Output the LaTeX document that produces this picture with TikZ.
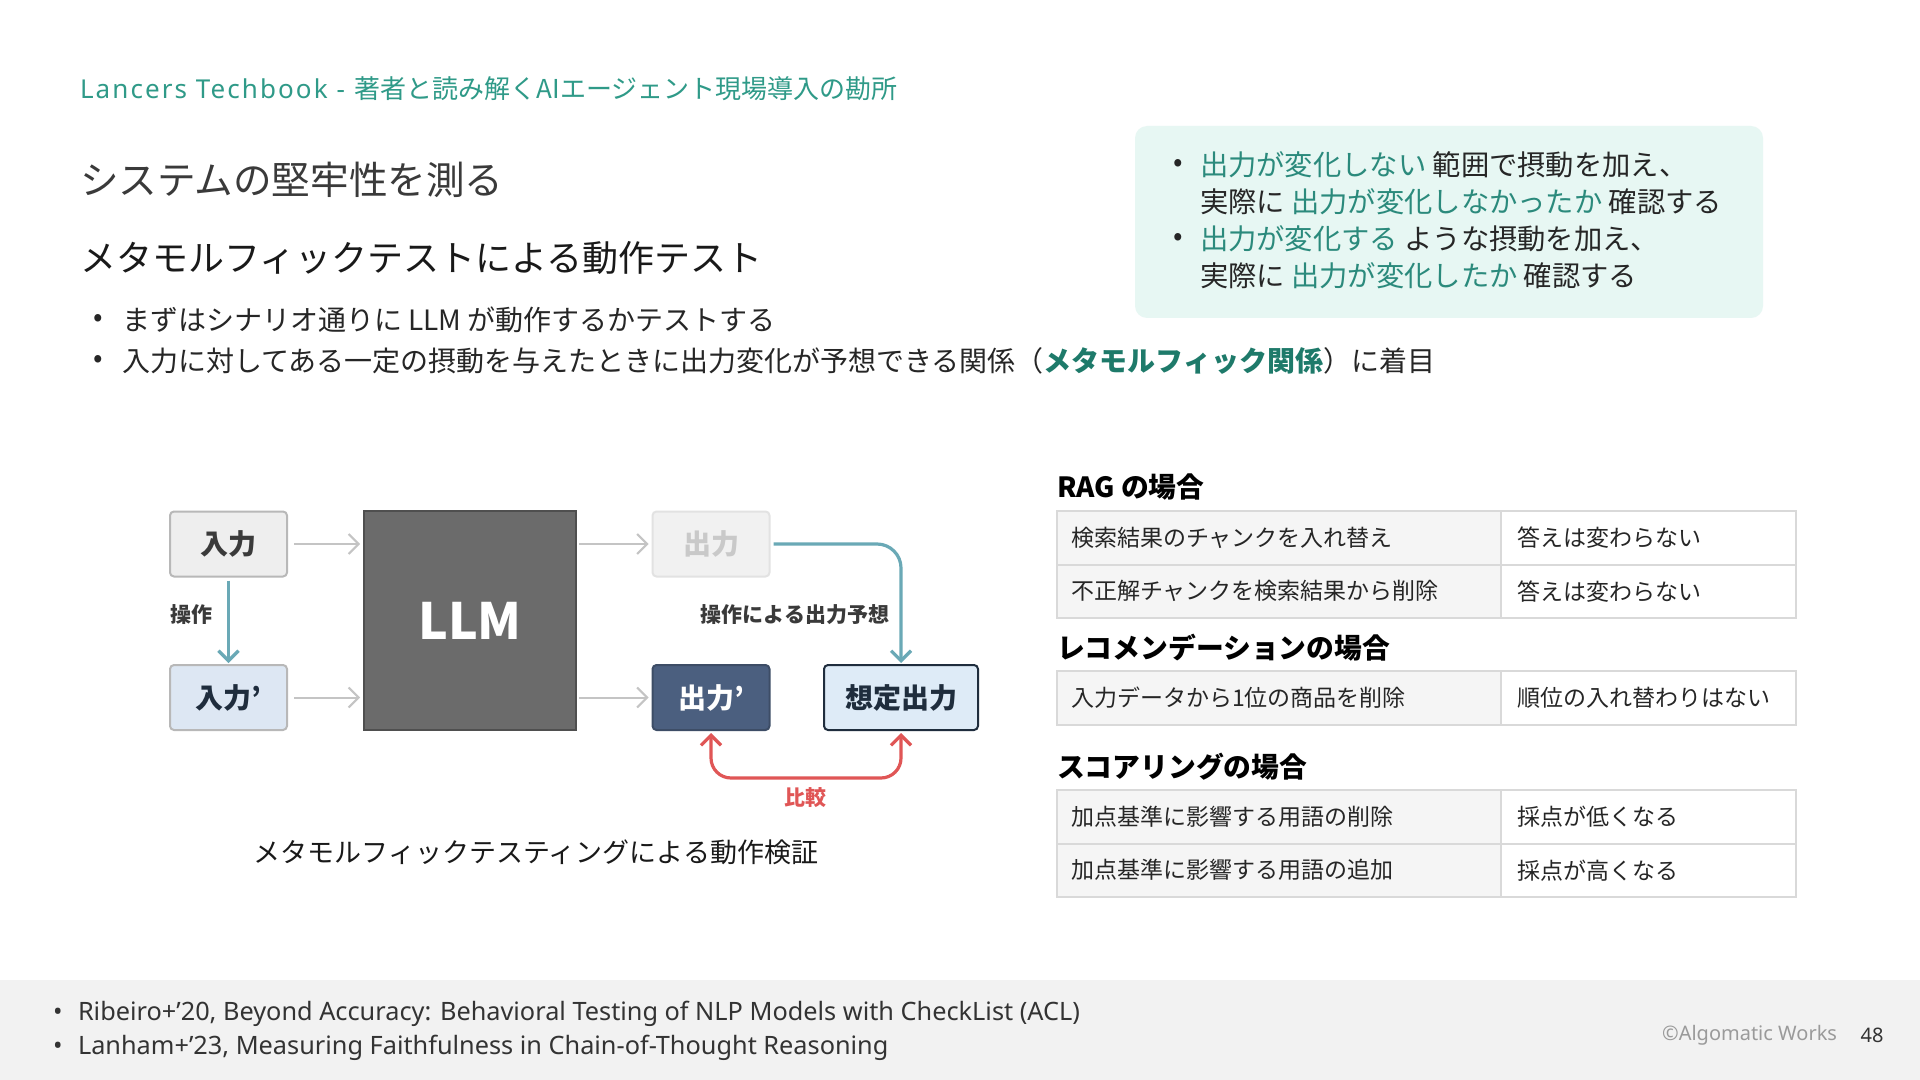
\documentclass[tikz,border=0pt]{standalone}
\usepackage{fontspec}
\setmainfont{Noto Sans CJK JP}
\newfontfamily\latinfont{Noto Sans}
\newfontfamily\latinspaced[LetterSpace=8]{Noto Sans}
\usetikzlibrary{arrows.meta}
\newcommand{\fsz}[1]{\fontsize{#1pt}{#1pt}\selectfont}
\definecolor{tealhead}{HTML}{2F9A88}
\definecolor{titlegray}{HTML}{3A3A3A}
\definecolor{boxteal}{HTML}{2B8A7C}
\definecolor{boldteal}{HTML}{1E7A6A}
\definecolor{boxfill}{HTML}{E7F7F3}
\definecolor{arrgray}{HTML}{C4C4C4}
\definecolor{arrteal}{HTML}{6AA9B6}
\definecolor{arrred}{HTML}{E05656}
\definecolor{dtext}{HTML}{3A3A3A}
\definecolor{inonefill}{HTML}{EEEEEE}
\definecolor{inoneline}{HTML}{B8B8B8}
\definecolor{intwofill}{HTML}{DDE7F3}
\definecolor{llmfill}{HTML}{6B6B6B}
\definecolor{llmline}{HTML}{4F4F4F}
\definecolor{outonefill}{HTML}{F1F1F1}
\definecolor{outoneline}{HTML}{E2E2E2}
\definecolor{outonetext}{HTML}{C9C9C9}
\definecolor{outtwofill}{HTML}{4B5F7F}
\definecolor{outtwoline}{HTML}{3D4D66}
\definecolor{expfill}{HTML}{DEEBF7}
\definecolor{expline}{HTML}{1F2D3D}
\definecolor{tblline}{HTML}{D9D9D9}
\definecolor{tblfill}{HTML}{F5F5F5}
\definecolor{footbg}{HTML}{F2F2F2}
\definecolor{foottext}{HTML}{333333}
\definecolor{copygray}{HTML}{9A9A9A}
\begin{document}
\begin{tikzpicture}[x=0.5pt,y=-0.5pt,
  every node/.style={inner sep=0pt, outer sep=0pt},
  hdr/.style={anchor=west, text=tealhead, font={\fsz{13}}},
  bul/.style={font={\fsz{14}}, text=black!85},
  bodytext/.style={anchor=west, font={\fsz{14}}, text=black!85},
  boxtext/.style={anchor=west, font={\fsz{14.15}}, text=black!85},
  dbox/.style={draw, line width=1pt, rounded corners=2pt, font={\bfseries\fsz{14}}, minimum width=58.5pt, minimum height=32.5pt},
  dlabel/.style={font={\bfseries\fsz{10.5}}, text=dtext},
  grayarr/.style={draw=arrgray, line width=1pt, -{Straight Barb[length=5pt,width=10pt]}},
  tealarr/.style={draw=arrteal, line width=1.6pt, -{Straight Barb[length=5pt,width=10pt]}},
  redarr/.style={draw=arrred, line width=1.6pt, {Straight Barb[length=5pt,width=10pt]}-{Straight Barb[length=5pt,width=10pt]}, rounded corners=10pt},
  tblhead/.style={anchor=west, font={\bfseries\fsz{13.9}}, text=black},
  tl/.style={draw=tblline, line width=1pt, fill=tblfill, anchor=north west, minimum height=26.75pt, text width=208pt, inner xsep=7pt, inner ysep=0pt, align=left, font={\fsz{11.5}}, text=black!85},
  tr/.style={draw=tblline, line width=1pt, fill=white, anchor=north west, minimum height=26.75pt, text width=131.5pt, inner xsep=8pt, inner ysep=0pt, align=left, font={\fsz{11.5}}, text=black!85},
  foot/.style={anchor=west, font={\latinfont\fsz{12.65}}, text=foottext}
]
\useasboundingbox (0,0) rectangle (1920,1080);
\fill[white] (0,0) rectangle (1920,1080);
\fill[footbg] (0,980) rectangle (1920,1080);

% header and titles
\node[hdr] (header) at (80,89) {{\latinspaced Lancers Techbook -}\hspace{5pt}著者と読み解くAIエージェント現場導入の勘所};
\node[anchor=west, font={\fsz{19.3}}, text=titlegray] (title) at (80,180) {システムの堅牢性を測る};
\node[anchor=west, font={\fsz{18}}, text=black!90] (subtitle) at (80,258) {メタモルフィックテストによる動作テスト};

% bullets
\node[bul] (b1) at (98,320) {•};
\node[bodytext] (t1) at (122,320) {まずはシナリオ通りに LLM が動作するかテストする};
\node[bul] (b2) at (98,361) {•};
\node[bodytext] (t2) at (122,361) {入力に対してある一定の摂動を与えたときに出力変化が予想できる関係（{\bfseries\color{boldteal}メタモルフィック関係}）に着目};

% highlight box
\node[fill=boxfill, rounded corners=6pt, minimum width=314pt, minimum height=96pt, anchor=north west] (hbox) at (1135,126) {};
\node[bul] (hb1) at (1178,165) {•};
\node[boxtext] (hl1) at (1200,165) {{\color{boxteal}出力が変化しない} 範囲で摂動を加え、};
\node[boxtext] (hl2) at (1200,202) {実際に {\color{boxteal}出力が変化しなかったか} 確認する};
\node[bul] (hb2) at (1178,239) {•};
\node[boxtext] (hl3) at (1200,239) {{\color{boxteal}出力が変化する} ような摂動を加え、};
\node[boxtext] (hl4) at (1200,276) {実際に {\color{boxteal}出力が変化したか} 確認する};

% diagram
\node[dbox, draw=inoneline, fill=inonefill, text=dtext] (in1) at (228.5,544) {入力};
\node[dbox, draw=inoneline, fill=intwofill, text=expline] (in2) at (228.5,697.5) {入力'};
\node[draw=llmline, fill=llmfill, line width=1pt, minimum width=106pt, minimum height=109.5pt, font={\bfseries\fsz{25}}, text=white] (llm) at (470,620.5) {LLM};
\node[dbox, draw=outoneline, fill=outonefill, text=outonetext] (out1) at (711,544) {出力};
\node[dbox, draw=outtwoline, fill=outtwofill, text=white] (out2) at (711,697.5) {出力'};
\node[dbox, draw=expline, fill=expfill, text=expline, minimum width=77pt] (exp) at (901,697.5) {想定出力};

\draw[grayarr, shorten <=3.5pt, shorten >=2pt] (in1.east) -- (in1.east -| llm.west);
\draw[grayarr, shorten <=3.5pt, shorten >=2pt] (in2.east) -- (in2.east -| llm.west);
\draw[grayarr, shorten <=1.5pt, shorten >=2pt] (out1.west -| llm.east) -- (out1.west);
\draw[grayarr, shorten <=1.5pt, shorten >=2pt] (out2.west -| llm.east) -- (out2.west);
\draw[tealarr, shorten <=2pt, shorten >=1pt] (in1.south) -- (in2.north);
\draw[tealarr, rounded corners=12pt, shorten <=2pt, shorten >=1pt] (out1.east) -| (exp.north);
\draw[redarr, shorten <=1.5pt, shorten >=1.5pt] (out2.south) -- ++(0,48) -| (exp.south);

\node[dlabel] (lsousa) at (191,615) {操作};
\node[dlabel] (lyosou) at (795,615) {操作による出力予想};
\node[font={\bfseries\fsz{10.5}}, text=arrred] (lhikaku) at (805,798) {比較};
\node[font={\fsz{13.5}}, text=black!90] (caption) at (536,852) {メタモルフィックテスティングによる動作検証};

% tables
\node[tblhead] (h1) at (1057,487) {RAG の場合};
\node[tl] (r1a) at (1057,511) {検索結果のチャンクを入れ替え};
\node[tr] (r1b) at (r1a.north east) {答えは変わらない};
\node[tl] (r2a) at (r1a.south west) {不正解チャンクを検索結果から削除};
\node[tr] (r2b) at (r2a.north east) {答えは変わらない};

\node[tblhead] (h2) at (1057,648) {レコメンデーションの場合};
\node[tl] (r3a) at (1057,671) {入力データから1位の商品を削除};
\node[tr] (r3b) at (r3a.north east) {順位の入れ替わりはない};

\node[tblhead] (h3) at (1057,767) {スコアリングの場合};
\node[tl] (r4a) at (1057,790) {加点基準に影響する用語の削除};
\node[tr] (r4b) at (r4a.north east) {採点が低くなる};
\node[tl] (r5a) at (r4a.south west) {加点基準に影響する用語の追加};
\node[tr] (r5b) at (r5a.north east) {採点が高くなる};

% footer
\node[font={\latinfont\fsz{12.65}}, text=foottext] (fb1) at (58,1014) {•};
\node[foot] (f1) at (78,1014) {Ribeiro+’20, Beyond Accuracy: Behavioral Testing of NLP Models with CheckList (ACL)};
\node[font={\latinfont\fsz{12.65}}, text=foottext] (fb2) at (58,1048) {•};
\node[foot] (f2) at (78,1048) {Lanham+’23, Measuring Faithfulness in Chain-of-Thought Reasoning};
\node[anchor=east, font={\latinfont\fsz{10}}, text=copygray] (copy) at (1837,1035) {©Algomatic Works};
\node[font={\latinfont\fsz{10}}, text=foottext] (pnum) at (1872,1035) {48};
\end{tikzpicture}
\end{document}
